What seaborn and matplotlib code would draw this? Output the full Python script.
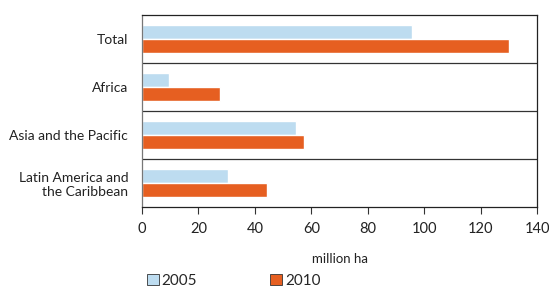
import matplotlib
matplotlib.use("Agg")
import matplotlib.pyplot as plt
import seaborn as sns
import pandas as pd
from matplotlib.patches import Patch

categories = ["Total", "Africa", "Asia and the Pacific", "Latin America and\nthe Caribbean"]
years = ["2005", "2010"]
values_2005 = [95.7, 9.7, 54.5, 30.5]
values_2010 = [129.9, 27.5, 57.3, 44.4]
xticks = [0, 20, 40, 60, 80, 100, 120, 140]

df = pd.DataFrame({
    "region": categories * 2,
    "year": [years[0]] * 4 + [years[1]] * 4,
    "value": values_2005 + values_2010,
})

sns.set_theme(style="white")
plt.rcParams["font.family"] = ["Lato", "DejaVu Sans"]

colors = {"2005": "#bddcf0", "2010": "#e65f21"}

fig = plt.figure(figsize=(5.49, 2.87), dpi=100)
ax = fig.add_axes([0.2587, 0.279, 0.7195, 0.669])
sns.barplot(data=df, y="region", x="value", hue="year", order=categories,
            hue_order=years, palette=colors, orient="h", width=0.6,
            saturation=1, ax=ax, legend=False)

ax.set_xlim(0, 140)
ax.set_ylim(3.5, -0.5)
ax.set_xticks(xticks)
ax.set_xticklabels([str(t) for t in xticks], fontsize=10.5, color="#222222")
ax.tick_params(axis="x", direction="out", length=5, width=0.8, color="#333333", pad=6, bottom=True)
ax.set_yticks(range(len(categories)))
ax.set_yticklabels(categories, fontsize=10, color="#222222", ha="right")
ax.tick_params(axis="y", length=0, pad=10)
ax.set_yticks([0.5, 1.5, 2.5], minor=True)
ax.tick_params(axis="y", which="minor", direction="out", length=3, width=0.8, color="#555555")
for yv in [0.5, 1.5, 2.5]:
    ax.axhline(yv, color="#333333", lw=0.9, zorder=0)
ax.set_ylabel("")
ax.set_xlabel("million ha", fontsize=9.5, color="#222222", labelpad=12)
for s in ["top", "right", "bottom"]:
    ax.spines[s].set_visible(True)
    ax.spines[s].set_color("#222222")
    ax.spines[s].set_linewidth(0.9)
ax.spines["left"].set_color("#777777")
ax.spines["left"].set_linewidth(0.9)

handles = [Patch(facecolor=colors[y], edgecolor="#333333", linewidth=0.6) for y in years]
fig.legend(handles, years, loc="center left", bbox_to_anchor=(0.268, 0.022), ncol=2,
           frameon=False, fontsize=11, handlelength=0.75, handleheight=0.75,
           handletextpad=0.2, columnspacing=4.8, borderpad=0, borderaxespad=0)

fig.savefig("out.png", dpi=100)
